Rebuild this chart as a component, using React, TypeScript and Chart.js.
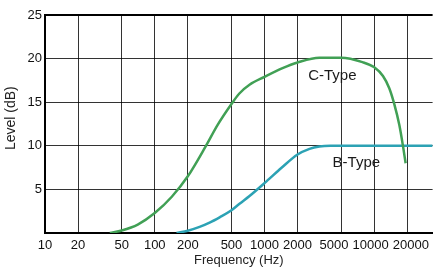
import { useEffect, useRef } from 'react';
import { Chart, registerables } from 'chart.js';

Chart.register(...registerables);

// ---- data ----
const xTickValues = [10, 20, 50, 100, 200, 500, 1000, 2000, 5000, 10000, 20000];
const xTickLabels = ['10', '20', '50', '100', '200', '500', '1000', '2000', '5000    ', '10000  ', '  20000'];
const yTickValues = [0, 5, 10, 15, 20, 25];
const yTickLabels = ['', '5', '10', '15', '20', '25'];

const cTypeFreq = [39, 50, 70, 100, 143, 200, 290, 374, 500, 590, 730, 1000, 1460, 2000, 3160, 5000, 7800, 10000, 12000, 13700, 15200, 16900, 18300, 19300];
const cTypeLevel = [0, 0.29, 0.97, 2.29, 4.16, 6.5, 9.9, 12.4, 14.8, 16.0, 17.0, 17.9, 18.9, 19.55, 20.1, 20.1, 19.6, 19.0, 18.0, 16.6, 14.8, 12.4, 9.9, 8.0];

const bTypeFreq = [158, 200, 256, 316, 390, 500, 592, 730, 1000, 1430, 2000, 2570, 3160, 3980, 34000];
const bTypeLevel = [0, 0.26, 0.7, 1.19, 1.8, 2.6, 3.35, 4.24, 5.72, 7.48, 9.0, 9.65, 9.92, 10, 10];

const curveLabelText = ['C-Type', 'B-Type'];
const curveLabelFreq = [4150, 6860];
const curveLabelLevel = [18.0, 8.1];

const FONT = '"Liberation Sans", Arial, Helvetica, sans-serif';

const curveLabelsPlugin = {
  id: 'curveLabels',
  afterDatasetsDraw(chart: any) {
    const { ctx, scales } = chart;
    const x = scales.x;
    const y = scales.y;
    ctx.save();
    ctx.font = `15px ${FONT}`;
    ctx.fillStyle = '#1a1a1a';
    ctx.textAlign = 'center';
    ctx.textBaseline = 'middle';
    curveLabelText.forEach((t, i) => {
      ctx.fillText(t, x.getPixelForValue(curveLabelFreq[i]), y.getPixelForValue(curveLabelLevel[i]));
    });
    ctx.restore();
  },
};

export default function App() {
  const canvasRef = useRef<HTMLCanvasElement | null>(null);

  useEffect(() => {
    if (!canvasRef.current) return;
    const chart = new Chart(canvasRef.current, {
      type: 'line',
      data: {
        datasets: [
          {
            label: 'C-Type',
            data: cTypeFreq.map((f, i) => ({ x: f, y: cTypeLevel[i] })),
            borderColor: '#41a055',
            borderWidth: 2.5,
            pointRadius: 0,
            cubicInterpolationMode: 'monotone',
            fill: false,
          },
          {
            label: 'B-Type',
            data: bTypeFreq.map((f, i) => ({ x: f, y: bTypeLevel[i] })),
            borderColor: '#2ca2b4',
            borderWidth: 2.5,
            pointRadius: 0,
            cubicInterpolationMode: 'monotone',
            fill: false,
          },
        ],
      },
      options: {
        responsive: false,
        animation: false,
        layout: { padding: { top: 15, right: 0, left: 0, bottom: 0 } },
        plugins: { legend: { display: false }, tooltip: { enabled: false } },
        scales: {
          x: {
            type: 'logarithmic',
            min: 10,
            max: 34000,
            afterBuildTicks: (scale: any) => {
              scale.ticks = xTickValues.map((v) => ({ value: v }));
            },
            afterFit: (scale: any) => {
              scale.height = 35;
            },
            ticks: {
              autoSkip: false,
              maxRotation: 0,
              minRotation: 0,
              padding: 5,
              color: '#111',
              font: { family: FONT, size: 13 },
              callback: (_v: any, i: number) => xTickLabels[i],
            },
            grid: { color: 'rgba(0,0,0,0.8)', lineWidth: 1, drawTicks: false },
            border: { display: true, color: '#000', width: 2 },
            title: {
              display: true,
              text: 'Frequency (Hz)',
              color: '#222',
              font: { family: FONT, size: 13 },
              padding: { top: 0, bottom: 0 },
            },
          },
          y: {
            type: 'linear',
            min: 0,
            max: 25,
            afterBuildTicks: (scale: any) => {
              scale.ticks = yTickValues.map((v) => ({ value: v }));
            },
            afterFit: (scale: any) => {
              scale.width = 45;
            },
            ticks: {
              padding: 3,
              color: '#111',
              font: { family: FONT, size: 13 },
              callback: (_v: any, i: number) => yTickLabels[i],
            },
            grid: {
              color: (c: any) => (c.tick && c.tick.value === 25 ? '#000' : 'rgba(0,0,0,0.8)'),
              lineWidth: (c: any) => (c.tick && c.tick.value === 25 ? 2 : 1),
              drawTicks: false,
            },
            border: { display: true, color: '#000', width: 2 },
            title: {
              display: true,
              text: '   Level (dB)',
              color: '#222',
              font: { family: FONT, size: 14 },
              padding: { top: 3, bottom: 0 },
            },
          },
        },
      },
      plugins: [curveLabelsPlugin],
    } as any);
    return () => chart.destroy();
  }, []);

  return (
    <canvas
      ref={canvasRef}
      width={434}
      height={268}
      style={{ position: 'absolute', left: 0, top: 0, width: 434, height: 268, background: '#fff' }}
    />
  );
}
